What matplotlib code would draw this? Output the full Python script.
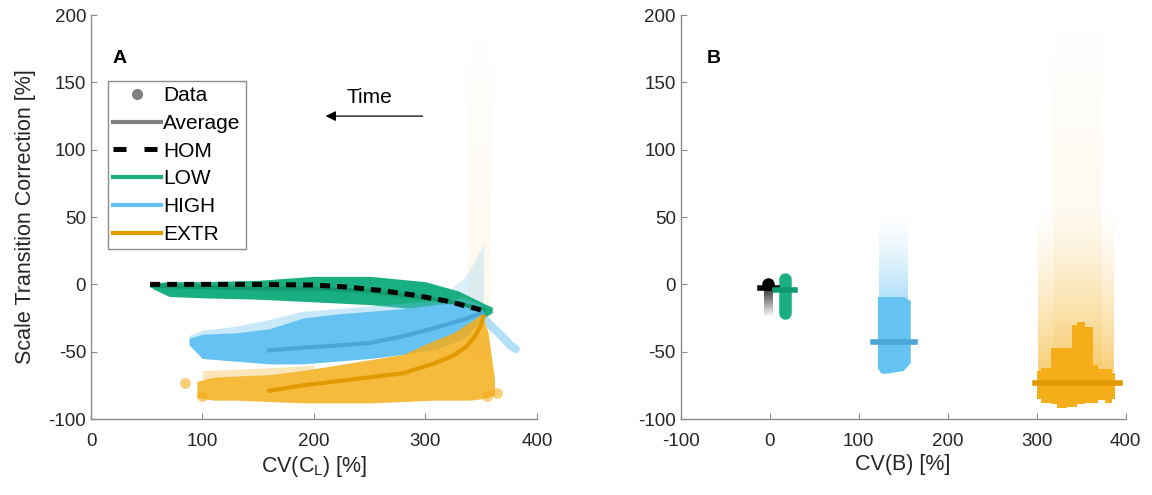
import numpy as np
import matplotlib.pyplot as plt
from matplotlib.colors import to_rgb

plt.rcParams['font.family'] = ['Liberation Sans', 'DejaVu Sans']
plt.rcParams['axes.unicode_minus'] = False

# colours (cloud / average line)
col_low, line_low = '#1AAF80', '#0F9A6F'
col_high, line_high = '#66C2F2', '#4AA6D8'
col_extr, line_extr = '#F5AE1A', '#E29A00'
axis_grey = '#8C8C8C'
text_dark = '#262626'

# ---------------- Panel A: CV(C_L) vs correction ----------------
# HOM average (dashed)
hom_x = [53, 100, 150, 200, 230, 260, 290, 320, 350]
hom_y = [0, 0, 0, -0.5, -2, -4.5, -8, -12.5, -19]

# LOW data band + average
low_x = [55, 70, 100, 150, 200, 250, 300, 330, 352, 360]
low_hi = [1, 2, 2, 3, 6, 6, 2, -5, -14, -17]
low_lo = [-3, -9, -10, -11, -13, -15, -19, -23, -25, -21]
low_avg_x = [55, 100, 150, 200, 250, 300, 330, 352]
low_avg_y = [-1, -2, -3, -3, -5, -10, -14, -19]

# HIGH data band + average
high_x = [88, 100, 130, 160, 190, 220, 250, 280, 310, 335, 352]
high_hi = [-40, -37, -36, -33, -25, -22, -20, -18, -15, -13, -18]
high_lo = [-45, -55, -57, -59, -59, -57, -55, -52, -48, -40, -25]
high_light_hi = [-38, -34, -31, -26, -20, -18, -16, -14, -12, -10, -16]
high_tail_x = [348, 358, 368, 376, 381]
high_tail_y = [-22, -30, -38, -45, -48]
high_spike_x = [300, 320, 335, 345, 352]
high_spike_hi = [-12, -5, 5, 18, 30]
high_spike_lo = [-15, -15, -17, -19, -20]
high_avg_x = [160, 190, 220, 250, 280, 310, 335, 351]
high_avg_y = [-49, -47, -45.5, -43.5, -38.5, -32, -26, -21]

# EXTR data band + average
extr_x = [95, 110, 130, 160, 190, 220, 250, 280, 307, 325, 340, 350, 356, 362]
extr_hi = [-72, -69, -68, -67, -64, -60, -56, -52, -42, -36, -28, -22, -35, -70]
extr_lo = [-84, -86, -86, -87, -88, -88, -88, -87, -86, -86, -86, -85, -84, -82]
extr_light_x = [100, 130, 160, 200]
extr_light_hi = [-64, -63, -62, -60]
extr_light_lo = [-72, -68, -67, -64]
extr_col_x, extr_col_y = [338, 358], [-60, 190]
extr_pts_x = [84, 100, 355, 364]
extr_pts_y = [-73, -83, -83, -81]
extr_avg_x = [160, 190, 220, 250, 280, 307, 325, 337, 345, 350, 352]
extr_avg_y = [-79, -75, -72, -69, -66, -59, -53, -46, -38, -30, -24]

# ---------------- Panel B: CV(B) vs correction ----------------
hom_b_x, hom_b_y = [-7, 3], [2, -24]
hom_b_avg, hom_b_bar = -3, [-11, 8]

low_b_x, low_b_y = 17, [-21, 4]
low_b_avg, low_b_bar = -4.5, [6, 28]

high_b_x = [121, 125, 130, 140, 150, 158]
high_b_hi = [-9, -9, -9, -9, -9, -12]
high_b_lo = [-62, -66, -66, -65, -64, -58]
high_b_fade_x, high_b_fade_y = [123, 155], [-30, 55]
high_b_avg, high_b_bar = -43, [116, 163]

extr_b_x = [301, 308, 315, 317, 330, 338, 341, 350, 360, 367, 372, 381, 388]
extr_b_hi = [-64, -62, -62, -47, -47, -47, -30, -28, -32, -60, -63, -63, -66]
extr_b_lo = [-85, -88, -88, -89, -92, -91, -91, -89, -88, -88, -86, -88, -85]
extr_b_fade_x, extr_b_fade_y = [302, 387], [-65, 60]
extr_b_tall_x, extr_b_tall_y = [318, 372], [-60, 192]
extr_b_avg, extr_b_bar = -73, [298, 394]


def fade(ax, xs, ys, color, a_max, gamma=1.5, z=1):
    # vertical transparency gradient: opaque at ys[0], clear at ys[1]
    n = 200
    rgba = np.zeros((n, 1, 4))
    rgba[..., :3] = to_rgb(color)
    rgba[:, 0, 3] = a_max * np.linspace(1, 0, n) ** gamma
    lo, hi = min(ys), max(ys)
    if ys[0] > ys[1]:
        rgba = rgba[::-1]
    ax.imshow(rgba, extent=[xs[0], xs[1], lo, hi], origin='lower',
              aspect='auto', interpolation='bilinear', zorder=z)


fig = plt.figure(figsize=(11.52, 4.95), dpi=100)
axA = fig.add_axes([0.079, 0.1535, 0.387, 0.816])
axB = fig.add_axes([0.591, 0.1535, 0.386, 0.816])

# ---- panel A drawing
fade(axA, extr_col_x, extr_col_y, col_extr, 0.09, gamma=0.8)
axA.fill_between(high_spike_x, high_spike_lo, high_spike_hi, color=col_high, alpha=0.22, lw=0, zorder=2)
axA.fill_between(low_x, low_lo, low_hi, color=col_low, lw=0, zorder=2)
axA.fill_between(high_x, high_lo, high_light_hi, color=col_high, alpha=0.35, lw=0, zorder=2)
axA.fill_between(high_x, high_lo, high_hi, color=col_high, lw=0, zorder=2)
axA.plot(high_tail_x, high_tail_y, color=col_high, lw=6, alpha=0.5, solid_capstyle='round', zorder=2)
axA.fill_between(extr_light_x, extr_light_lo, extr_light_hi, color=col_extr, alpha=0.3, lw=0, zorder=2)
axA.fill_between(extr_x, extr_lo, extr_hi, color=col_extr, alpha=0.85, lw=0, zorder=2)
axA.scatter(extr_pts_x, extr_pts_y, s=60, color=col_extr, alpha=0.6, lw=0, zorder=2)

axA.plot(low_avg_x, low_avg_y, color=line_low, lw=3, zorder=3)
axA.plot(high_avg_x, high_avg_y, color=line_high, lw=3, zorder=3)
axA.plot(extr_avg_x, extr_avg_y, color=line_extr, lw=3, zorder=3)
axA.plot(hom_x, hom_y, color='black', lw=3.6, dashes=(2.0, 1.4), zorder=4)

# legend proxies
h_data, = axA.plot([], [], 'o', color='#808080', ms=7, label='Data')
h_avg, = axA.plot([], [], color='#808080', lw=3, label='Average')
h_hom, = axA.plot([], [], color='black', lw=3.6, dashes=(2.6, 3.6), label='HOM')
h_low, = axA.plot([], [], color=col_low, lw=3, label='LOW')
h_high, = axA.plot([], [], color=col_high, lw=3, label='HIGH')
h_extr, = axA.plot([], [], color=line_extr, lw=3, label='EXTR')
leg = axA.legend(handles=[h_data, h_avg, h_hom, h_low, h_high, h_extr],
                 loc='upper left', bbox_to_anchor=(0.038, 0.837), fontsize=15,
                 handlelength=2.3, handletextpad=0.1, labelspacing=0.42,
                 borderpad=0.25, borderaxespad=0, fancybox=False, framealpha=1)
leg.get_frame().set_edgecolor(axis_grey)
leg.get_frame().set_linewidth(1.0)
leg.set_zorder(10)

axA.annotate('', xy=(208, 125), xytext=(300, 125),
             arrowprops=dict(arrowstyle='-|>', color='black', lw=0.9,
                             mutation_scale=15))
axA.text(250, 139, 'Time', ha='center', va='center', fontsize=15)
axA.text(19, 168, 'A', fontsize=14, fontweight='bold', ha='left', va='center')

axA.set_xlim(0, 400)
axA.set_ylim(-100, 200)
axA.set_xticks([0, 100, 200, 300, 400])
axA.set_yticks([-100, -50, 0, 50, 100, 150, 200])
axA.set_xlabel('CV(C$_\\mathregular{L}$) [%]', fontsize=15.5, color=text_dark, labelpad=3)
axA.set_ylabel('Scale Transition Correction [%]', fontsize=15.5, color=text_dark, labelpad=9)

# ---- panel B drawing
fade(axB, hom_b_x, hom_b_y, 'black', 1.0, gamma=1.0, z=2)
axB.plot(-2, 0, 'o', color='black', ms=8, zorder=3)
axB.plot(hom_b_bar, [hom_b_avg] * 2, color='black', lw=4, zorder=3)

axB.plot([low_b_x] * 2, low_b_y, color=col_low, lw=9, solid_capstyle='round', zorder=2)
axB.plot(low_b_bar, [low_b_avg] * 2, color=line_low, lw=4, zorder=3)

fade(axB, high_b_fade_x, high_b_fade_y, col_high, 0.75, z=1)
axB.fill_between(high_b_x, high_b_lo, high_b_hi, color=col_high, lw=0, zorder=2)
axB.plot(high_b_bar, [high_b_avg] * 2, color=line_high, lw=4, zorder=3)

fade(axB, extr_b_fade_x, extr_b_fade_y, col_extr, 0.6, z=1)
fade(axB, extr_b_tall_x, extr_b_tall_y, col_extr, 0.1, gamma=0.8, z=1)
axB.fill_between(extr_b_x, extr_b_lo, extr_b_hi, color=col_extr, lw=0, step='mid', zorder=2)
axB.plot(extr_b_bar, [extr_b_avg] * 2, color=line_extr, lw=4, zorder=3)

axB.text(-71, 168, 'B', fontsize=14, fontweight='bold', ha='left', va='center')
axB.set_xlim(-100, 400)
axB.set_ylim(-100, 200)
axB.set_xticks([-100, 0, 100, 200, 300, 400])
axB.set_yticks([-100, -50, 0, 50, 100, 150, 200])
axB.set_xlabel('CV(B) [%]', fontsize=15.5, color=text_dark, labelpad=3)

for ax in (axA, axB):
    for s in ('top', 'right'):
        ax.spines[s].set_visible(False)
    for s in ('left', 'bottom'):
        ax.spines[s].set_color(axis_grey)
        ax.spines[s].set_linewidth(1.0)
    ax.tick_params(direction='in', length=4, color=axis_grey, labelsize=13.5,
                   labelcolor=text_dark)
    ax.tick_params(axis='x', pad=10)

fig.savefig('out.png', dpi=100)
